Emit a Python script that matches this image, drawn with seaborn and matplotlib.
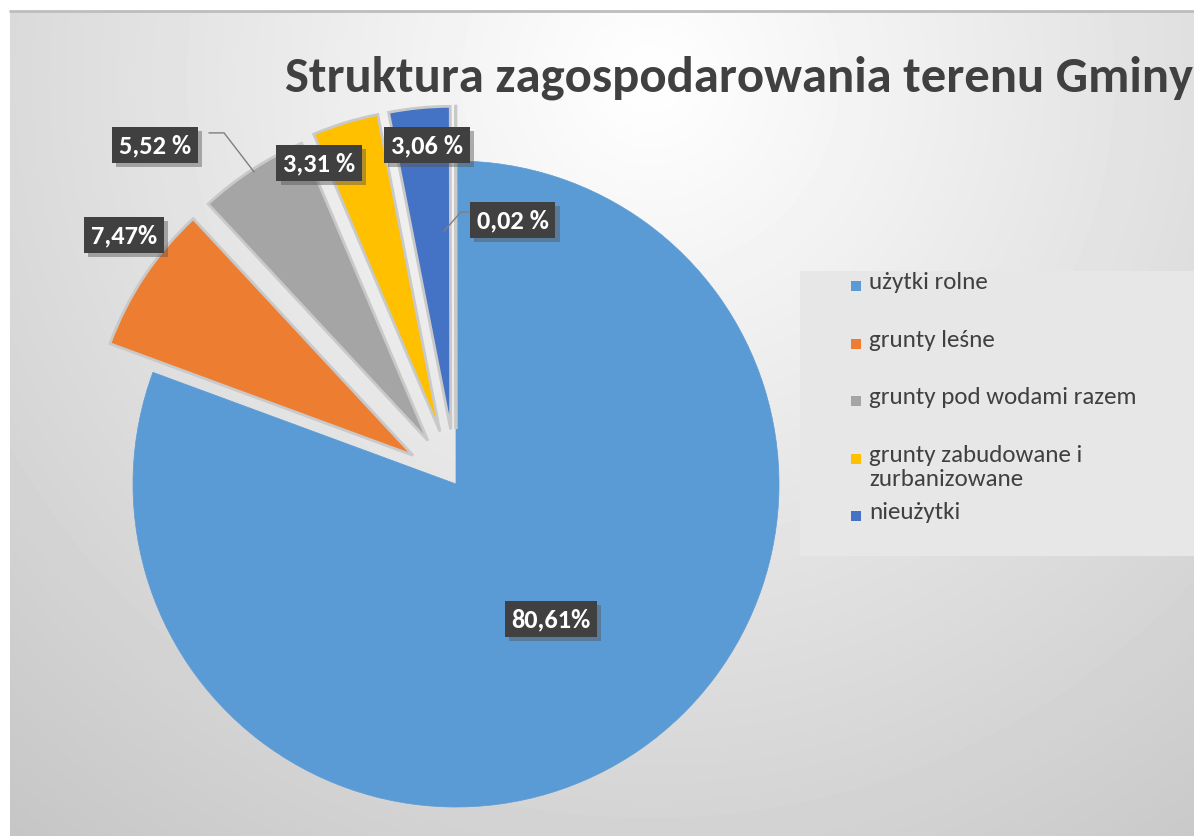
import numpy as np
import matplotlib
matplotlib.use("Agg")
import matplotlib.pyplot as plt
import matplotlib.patheffects as pe
from matplotlib.patches import Rectangle
import seaborn as sns

# data
categories = ["użytki rolne", "grunty leśne", "grunty pod wodami razem",
              "grunty zabudowane i\nzurbanizowane", "nieużytki", "pozostałe"]
values = [80.61, 7.47, 5.52, 3.31, 3.06, 0.02]
label_sep = ["", "", " ", " ", " ", " "]
colors = ["#5B9BD5", "#ED7D31", "#A5A5A5", "#FFC000", "#4472C4", "#70AD47"]
explode = [0, 0.16, 0.16, 0.17, 0.17, 0.17]
n_legend = 5

sns.set_theme(style="white")
fonts = ['Carlito', 'Open Sans', 'DejaVu Sans']
plt.rcParams['font.family'] = fonts

W, H = 1194, 837
fig = plt.figure(figsize=(W / 100, H / 100), dpi=100)
fig.patch.set_facecolor("white")

# background gradient
bg = fig.add_axes([0, 0, 1, 1])
bg.set_xlim(0, W)
bg.set_ylim(H, 0)
bg.axis("off")
xx, yy = np.meshgrid(np.arange(10, W), np.arange(12, H))
d = np.sqrt((xx - 650) ** 2 + (yy - 80) ** 2)
grad = 255 - 58 * np.clip(d / 1000, 0, 1)
bg.imshow(grad, cmap="gray", vmin=0, vmax=255, extent=(10, W, H, 12),
          aspect="auto", interpolation="bilinear")
bg.plot([10, W], [12, 12], color="#bdbdbd", lw=2)

# legend box
bg.add_patch(Rectangle((800, 272), 400, 285, fc="#e7e7e7", ec="none"))
leg_y = [287, 345, 402, 460, 517]
for i in range(n_legend):
    bg.add_patch(Rectangle((851, leg_y[i] - 5), 10, 10, fc=colors[i], ec="none"))
    bg.text(869, leg_y[i] - 15, categories[i], fontsize=18, color="#404040",
            va="top", ha="left", linespacing=1.2)

# title
fig.text(285 / W, 1 - 92 / H, "Struktura zagospodarowania terenu Gminy",
         fontsize=36.5, fontweight="bold", color="#404040", va="baseline",
         family=['Carlito', 'Roboto Condensed', 'Open Sans', 'DejaVu Sans'])

# pie
cx, cy, r = 456, 485, 323
half = 1.5 * r
ax = fig.add_axes([(cx - half) / W, (H - cy - half) / H, 2 * half / W, 2 * half / H])
ax.set_facecolor("none")
wedges, _ = ax.pie(values, colors=colors, startangle=90, counterclock=False,
                   explode=explode, radius=1,
                   wedgeprops=dict(edgecolor="#c9c9c9", linewidth=2))
wedges[0].set_edgecolor(colors[0])
wedges[0].set_linewidth(0.5)
ax.set_xlim(-1.5, 1.5)
ax.set_ylim(-1.5, 1.5)
ax.axis("off")

labels = [f"{v:.2f}".replace(".", ",") + s + "%" for v, s in zip(values, label_sep)]
label_pos = [(0.294, -0.418), (-1.028, 0.771), (-0.932, 1.050),
             (-0.424, 0.994), (-0.090, 1.050), (0.176, 0.817)]

# leader lines
ax.plot([-0.765, -0.718, -0.625], [1.087, 1.087, 0.966], color="#7f7f7f", lw=1)
ax.plot([0.043, 0.015, -0.037], [0.842, 0.842, 0.783], color="#7f7f7f", lw=1)

for lab, (lx, ly) in zip(labels, label_pos):
    t = ax.text(lx, ly, lab, ha="center", va="center", fontsize=19,
                fontweight="bold", color="white",
                bbox=dict(boxstyle="square,pad=0.25", fc="#404040", ec="none"))
    t.get_bbox_patch().set_path_effects(
        [pe.SimplePatchShadow(offset=(3, -3), shadow_rgbFace="#555555", alpha=0.45), pe.Normal()])

fig.savefig("out.png", dpi=100)
